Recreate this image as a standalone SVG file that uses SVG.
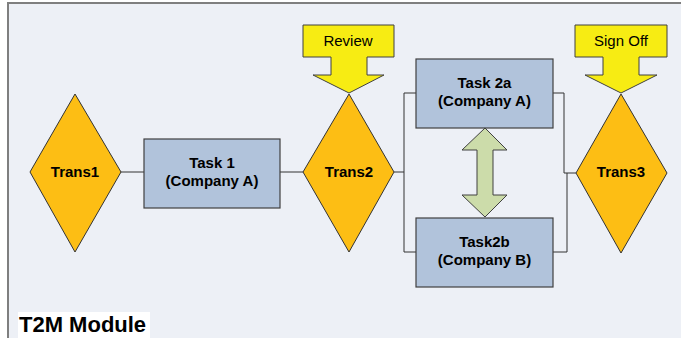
<svg xmlns="http://www.w3.org/2000/svg" width="681" height="338" viewBox="0 0 681 338">
<style>
.dia{fill:#FDBE14;stroke:#333;stroke-width:1}
.task{fill:#B1C3DB;stroke:#404040;stroke-width:1.2}
.call{fill:#F7EC13;stroke:#404040;stroke-width:1}
.con{fill:none;stroke:#333;stroke-width:1}
.lbl{font-family:"Liberation Sans",Arial,sans-serif;font-weight:bold;font-size:15px;fill:#000;text-anchor:middle}
.cl{font-family:"Liberation Sans",Arial,sans-serif;font-size:15px;fill:#000;text-anchor:middle}
</style>
<rect x="0" y="0" width="681" height="338" fill="#FFFFFF"/>
<rect x="8" y="3" width="680" height="340" fill="#EDF0F6" stroke="#7F7F7F" stroke-width="2"/>
<g id="connectors">
<polyline class="con" points="121,172 144,172"/>
<polyline class="con" points="280,172 303,172"/>
<polyline class="con" points="394,172 404,172"/>
<polyline class="con" points="416,93 404,93 404,252 416,252"/>
<polyline class="con" points="553,93 564,93 564,173 576,173"/>
<polyline class="con" points="553,252 567,252 567,173"/>
</g>
<g id="trans1">
<polygon class="dia" points="75,94 121,172 75,252 30,172"/>
<text class="lbl" x="75" y="177">Trans1</text>
</g>
<g id="task1">
<rect class="task" x="144" y="139" width="136" height="69"/>
<text class="lbl" x="212" y="168">Task 1</text>
<text class="lbl" x="212" y="186">(Company A)</text>
</g>
<g id="trans2">
<polygon class="dia" points="349,94 394,172 349,252 303,172"/>
<text class="lbl" x="349" y="177">Trans2</text>
</g>
<g id="review">
<polygon class="call" points="303,25 394,25 394,57 367,57 367,75 384,75 349,93 313,75 331,75 331,57 303,57"/>
<text class="cl" x="348" y="46">Review</text>
</g>
<g id="task2a">
<rect class="task" x="416" y="59" width="137" height="69"/>
<text class="lbl" x="484.500" y="88">Task 2a</text>
<text class="lbl" x="484.500" y="106">(Company A)</text>
</g>
<g id="task2b">
<rect class="task" x="416" y="218" width="137" height="69"/>
<text class="lbl" x="484.500" y="247">Task2b</text>
<text class="lbl" x="484.500" y="265">(Company B)</text>
</g>
<g id="exchange">
<polygon points="485,128 507,150 493,150 493,195 507,195 485,217 462,195 477,195 477,150 462,150" fill="#CCDCAA" stroke="#404040" stroke-width="1"/>
</g>
<g id="trans3">
<polygon class="dia" points="621,94 667,173 621,253 576,173"/>
<text class="lbl" x="621" y="177">Trans3</text>
</g>
<g id="signoff">
<polygon class="call" points="575,25 667,25 667,57 639,57 639,75 657,75 621,93 585,75 603,75 603,57 575,57"/>
<text class="cl" x="621" y="46">Sign Off</text>
</g>
<g id="title">
<rect x="18" y="312" width="132" height="26" fill="#FFFFFF"/>
<text x="19" y="332" font-family="'Liberation Sans',Arial,sans-serif" font-weight="bold" font-size="22px" fill="#000">T2M Module</text>
</g>
</svg>
